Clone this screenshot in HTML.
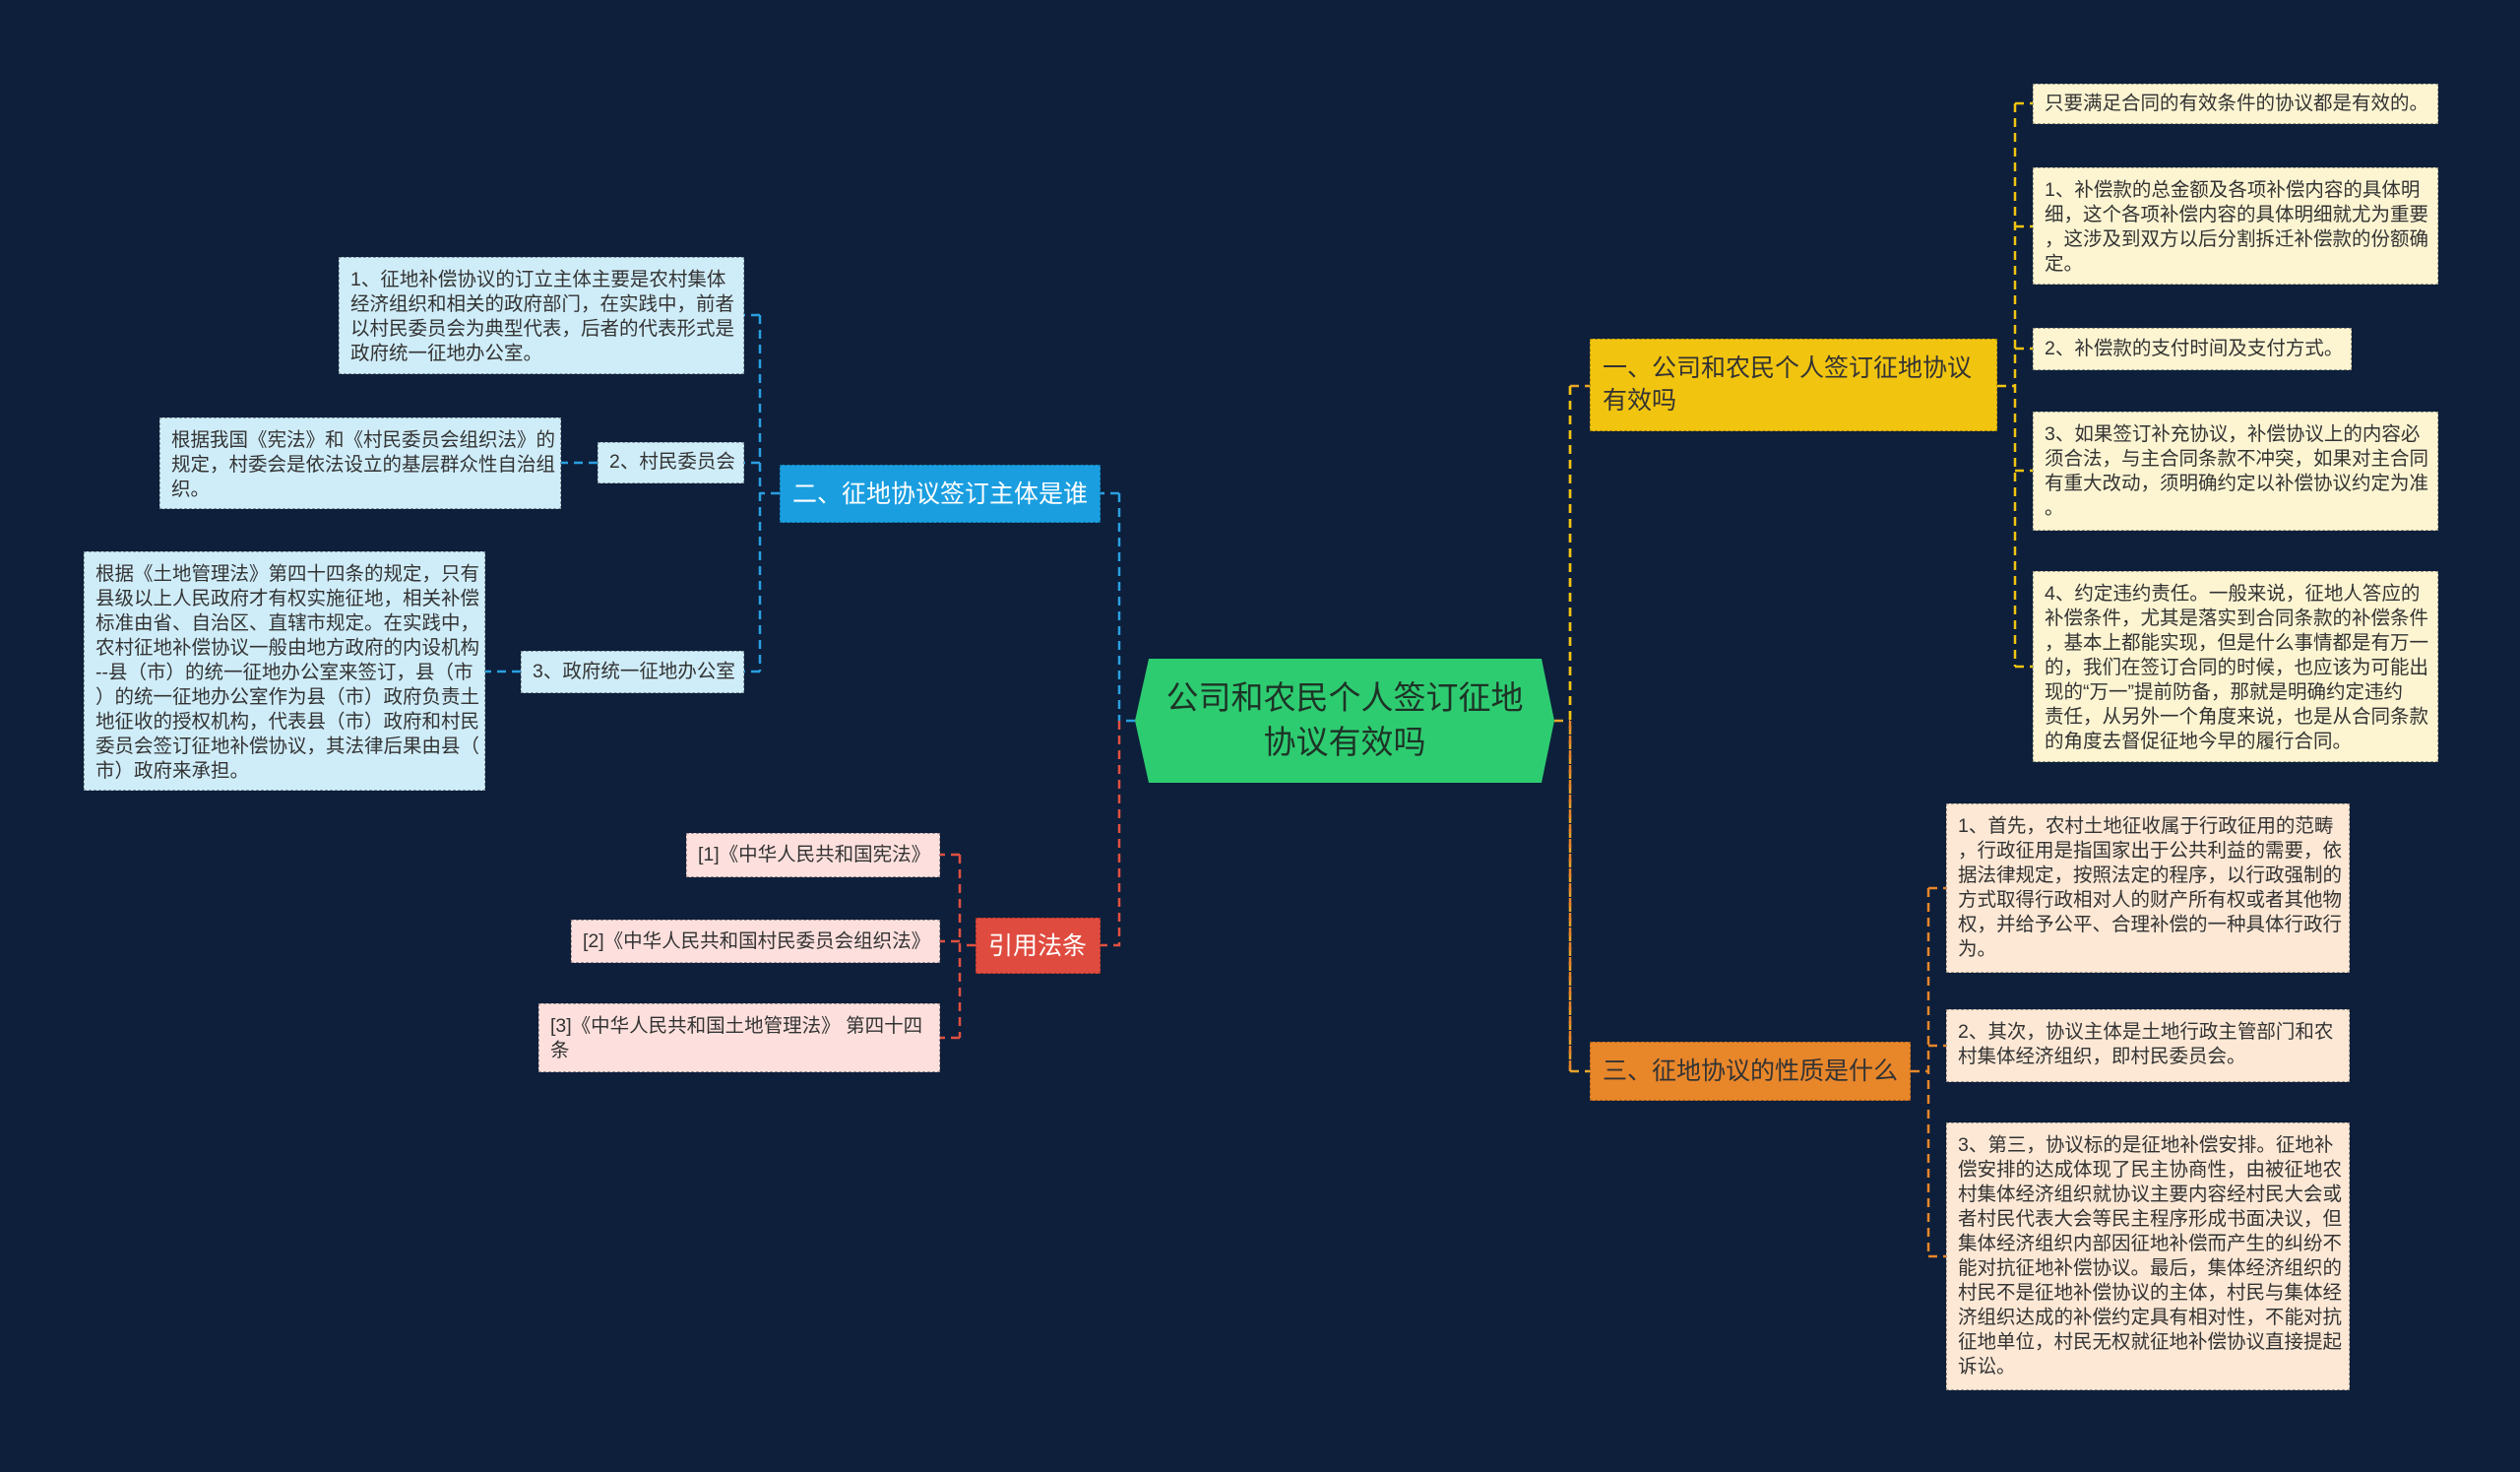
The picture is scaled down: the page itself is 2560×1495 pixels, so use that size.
<!DOCTYPE html>
<html><head><meta charset="utf-8"><style>
body{margin:0;width:2560px;height:1495px;background:#0d1f3b;overflow:hidden;position:relative;font-family:"Liberation Sans","Noto Sans CJK SC",sans-serif}
.b{position:absolute;box-sizing:border-box;font-size:19.5px;line-height:25px;color:#333;padding:10px 11px;white-space:nowrap;border:1.5px dashed rgba(0,0,0,0.35)}
.y{background:#fdf5d2}.bl{background:#cfedf9}.p{background:#fde0dd}.o{background:#fde8d5}
.br{position:absolute;box-sizing:border-box;font-size:25px;line-height:33px;white-space:nowrap;border:1.5px dashed rgba(0,0,0,0.3)}
svg{position:absolute;left:0;top:0}
</style></head><body>
<svg width="2560" height="1495">
<g fill="none" stroke-width="2.5" stroke-dasharray="9,6">
<!-- right center trunk -->
<path d="M1579 732 H1595 M1595 392 V1088 M1595 392 H1615 M1595 1088 H1615" stroke="#e8a42a"/>
<path d="M1595 392 V732" stroke="#f1c40f"/>
<path d="M1595 732 V1088" stroke="#e8862a"/>
<!-- yellow trunk -->
<path d="M2029 392 H2047 M2047 105 V677 M2047 105 H2065 M2047 230 H2065 M2047 354 H2065 M2047 478 H2065 M2047 677 H2065" stroke="#f1c40f"/>
<!-- orange trunk -->
<path d="M1941 1088 H1959 M1959 902 V1276 M1959 902 H1977 M1959 1062 H1977 M1959 1276 H1977" stroke="#e8862a"/>
<!-- left center -->
<path d="M1153 732 H1137 M1137 501 V732 M1137 501 H1118" stroke="#2a9fe0"/>
<path d="M1137 732 V960 H1118" stroke="#e05040"/>
<!-- blue trunk -->
<path d="M792 501 H772 M772 320 V682 M772 320 H756 M772 470 H756 M772 682 H756 M607 470 H570 M529 682 H493" stroke="#2a9fe0"/>
<!-- red trunk -->
<path d="M991 960 H975 M975 868 V1054 M975 868 H955 M975 956 H955 M975 1054 H955" stroke="#e05040"/>
</g>
<polygon points="1167,669 1566,669 1579,732 1566,795 1167,795 1153,732" fill="#2ecc71"/>
<text x="1366" y="720" text-anchor="middle" font-size="33" fill="#1d3326" font-family="Liberation Sans,Noto Sans CJK SC,sans-serif">公司和农民个人签订征地</text>
<text x="1366" y="765" text-anchor="middle" font-size="33" fill="#1d3326" font-family="Liberation Sans,Noto Sans CJK SC,sans-serif">协议有效吗</text>
</svg>

<div class="br" style="left:1615px;top:344px;width:414px;height:94px;background:#f1c40f;color:#333;padding:13px 12px">一、公司和农民个人签订征地协议<br>有效吗</div>
<div class="br" style="left:1615px;top:1058px;width:326px;height:60px;background:#e8862a;color:#333;padding:13px 12px">三、征地协议的性质是什么</div>
<div class="br" style="left:792px;top:472px;width:326px;height:59px;background:#1a9ee0;color:#fff;padding:13px 12px">二、征地协议签订主体是谁</div>
<div class="br" style="left:991px;top:932px;width:127px;height:57px;background:#e04b3f;color:#fff;padding:12px 12px">引用法条</div>

<div class="b y" style="left:2065px;top:85px;width:412px;height:41px;padding-top:7px">只要满足合同的有效条件的协议都是有效的。</div>
<div class="b y" style="left:2065px;top:170px;width:412px;height:119px">1、补偿款的总金额及各项补偿内容的具体明<br>细，这个各项补偿内容的具体明细就尤为重要<br>，这涉及到双方以后分割拆迁补偿款的份额确<br>定。</div>
<div class="b y" style="left:2065px;top:333px;width:324px;height:43px;padding-top:8px">2、补偿款的支付时间及支付方式。</div>
<div class="b y" style="left:2065px;top:418px;width:412px;height:121px">3、如果签订补充协议，补偿协议上的内容必<br>须合法，与主合同条款不冲突，如果对主合同<br>有重大改动，须明确约定以补偿协议约定为准<br>。</div>
<div class="b y" style="left:2065px;top:580px;width:412px;height:194px">4、约定违约责任。一般来说，征地人答应的<br>补偿条件，尤其是落实到合同条款的补偿条件<br>，基本上都能实现，但是什么事情都是有万一<br>的，我们在签订合同的时候，也应该为可能出<br>现的“万一”提前防备，那就是明确约定违约<br>责任，从另外一个角度来说，也是从合同条款<br>的角度去督促征地今早的履行合同。</div>

<div class="b o" style="left:1977px;top:816px;width:410px;height:172px">1、首先，农村土地征收属于行政征用的范畴<br>，行政征用是指国家出于公共利益的需要，依<br>据法律规定，按照法定的程序，以行政强制的<br>方式取得行政相对人的财产所有权或者其他物<br>权，并给予公平、合理补偿的一种具体行政行<br>为。</div>
<div class="b o" style="left:1977px;top:1025px;width:410px;height:74px">2、其次，协议主体是土地行政主管部门和农<br>村集体经济组织，即村民委员会。</div>
<div class="b o" style="left:1977px;top:1140px;width:410px;height:272px">3、第三，协议标的是征地补偿安排。征地补<br>偿安排的达成体现了民主协商性，由被征地农<br>村集体经济组织就协议主要内容经村民大会或<br>者村民代表大会等民主程序形成书面决议，但<br>集体经济组织内部因征地补偿而产生的纠纷不<br>能对抗征地补偿协议。最后，集体经济组织的<br>村民不是征地补偿协议的主体，村民与集体经<br>济组织达成的补偿约定具有相对性，不能对抗<br>征地单位，村民无权就征地补偿协议直接提起<br>诉讼。</div>

<div class="b bl" style="left:344px;top:261px;width:412px;height:119px">1、征地补偿协议的订立主体主要是农村集体<br>经济组织和相关的政府部门，在实践中，前者<br>以村民委员会为典型代表，后者的代表形式是<br>政府统一征地办公室。</div>
<div class="b bl" style="left:607px;top:449px;width:149px;height:42px;padding-top:7px">2、村民委员会</div>
<div class="b bl" style="left:162px;top:424px;width:408px;height:93px">根据我国《宪法》和《村民委员会组织法》的<br>规定，村委会是依法设立的基层群众性自治组<br>织。</div>
<div class="b bl" style="left:529px;top:661px;width:227px;height:43px;padding-top:8px">3、政府统一征地办公室</div>
<div class="b bl" style="left:85px;top:560px;width:408px;height:243px">根据《土地管理法》第四十四条的规定，只有<br>县级以上人民政府才有权实施征地，相关补偿<br>标准由省、自治区、直辖市规定。在实践中，<br>农村征地补偿协议一般由地方政府的内设机构<br>--县（市）的统一征地办公室来签订，县（市<br>）的统一征地办公室作为县（市）政府负责土<br>地征收的授权机构，代表县（市）政府和村民<br>委员会签订征地补偿协议，其法律后果由县（<br>市）政府来承担。</div>

<div class="b p" style="left:697px;top:846px;width:258px;height:45px;padding-top:9px">[1]《中华人民共和国宪法》</div>
<div class="b p" style="left:580px;top:934px;width:375px;height:44px;padding-top:9px">[2]《中华人民共和国村民委员会组织法》</div>
<div class="b p" style="left:547px;top:1019px;width:408px;height:70px">[3]《中华人民共和国土地管理法》 第四十四<br>条</div>
</body></html>
